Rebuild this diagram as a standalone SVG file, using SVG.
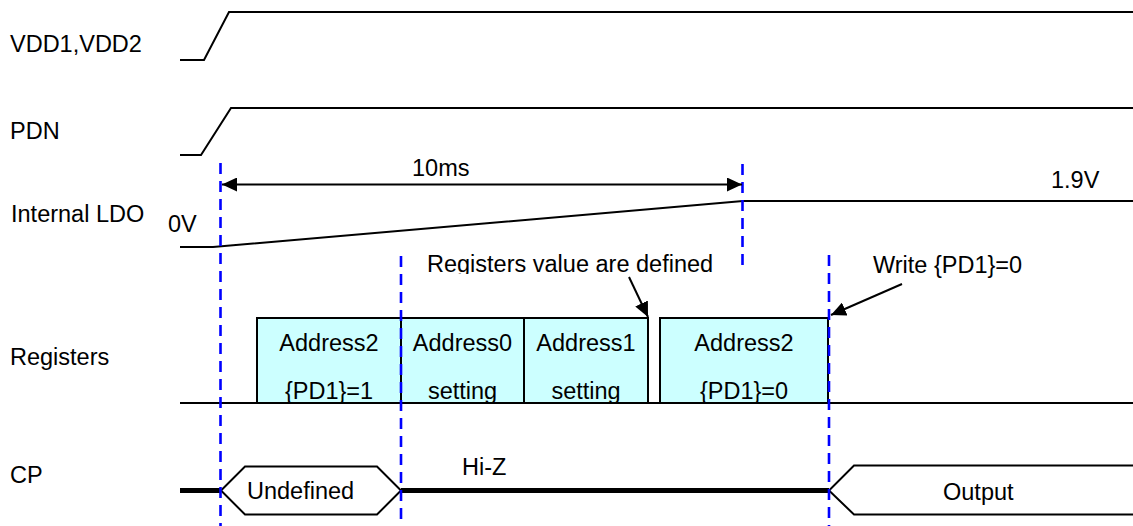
<svg xmlns="http://www.w3.org/2000/svg" width="1133" height="526" viewBox="0 0 1133 526">
<style>
text{font-family:"Liberation Sans",Arial,sans-serif;font-size:23.5px;fill:#000}
.mid{text-anchor:middle}
.sig{fill:none;stroke:#000;stroke-width:2}
.thick{fill:none;stroke:#000;stroke-width:5}
.dash{stroke:#0000FF;stroke-width:2.6;stroke-dasharray:11 7;fill:none}
.box{fill:#CCFFFF;stroke:#000;stroke-width:2}
.hex{fill:#fff;stroke:#000;stroke-width:2}
.arr{stroke:#000;stroke-width:2;fill:none}
</style>
<defs>
<marker id="ah" markerUnits="userSpaceOnUse" markerWidth="16" markerHeight="14" refX="15" refY="7" orient="auto-start-reverse">
<path d="M0,0 L15,7 L0,14 z" fill="#000"/>
</marker>
<clipPath id="clipTop"><rect x="0" y="0" width="1133" height="274"/></clipPath>
<clipPath id="clipBox"><rect x="0" y="0" width="1133" height="403"/></clipPath>
</defs>
<rect width="1133" height="526" fill="#fff"/>

<g id="labels">
<text x="10" y="52">VDD1,VDD2</text>
<text x="10" y="139">PDN</text>
<text x="11" y="222">Internal LDO</text>
<text x="10" y="365">Registers</text>
<text x="10" y="483">CP</text>
</g>

<g id="vdd">
<polyline class="sig" points="180,60 204,60 229,12 1133,12"/>
</g>
<g id="pdn">
<polyline class="sig" points="180,155 201,155 231,108 1133,108"/>
</g>
<g id="ldo">
<polyline class="sig" points="180,247 213,247 743,201 1133,201"/>
<text x="168" y="232">0V</text>
<text x="1051" y="188">1.9V</text>
<text x="412" y="176">10ms</text>
</g>

<g id="registers">
<line class="sig" x1="180" y1="403" x2="1133" y2="403"/>
<g id="box1">
<rect class="box" x="257" y="318" width="144" height="85"/>
<g clip-path="url(#clipBox)">
<text class="mid" x="329" y="351">Address2</text>
<text class="mid" x="329" y="399">{PD1}=1</text>
</g>
</g>
<g id="box2">
<rect class="box" x="401" y="318" width="123" height="85"/>
<g clip-path="url(#clipBox)">
<text class="mid" x="462.5" y="351">Address0</text>
<text class="mid" x="462.5" y="399">setting</text>
</g>
</g>
<g id="box3">
<rect class="box" x="524" y="318" width="124" height="85"/>
<g clip-path="url(#clipBox)">
<text class="mid" x="586" y="351">Address1</text>
<text class="mid" x="586" y="399">setting</text>
</g>
</g>
<g id="box4">
<rect class="box" x="660" y="318" width="168" height="85"/>
<g clip-path="url(#clipBox)">
<text class="mid" x="744" y="351">Address2</text>
<text class="mid" x="744" y="399">{PD1}=0</text>
</g>
</g>
</g>

<g id="cp">
<line class="thick" x1="180" y1="490.5" x2="221" y2="490.5"/>
<line class="thick" x1="401" y1="490.5" x2="829" y2="490.5"/>
<g id="undefined">
<polygon class="hex" points="221,490.5 245,466.5 377,466.5 401,490.5 377,514.5 245,514.5"/>
<text x="247" y="499">Undefined</text>
</g>
<g id="output">
<polyline class="hex" points="1134,465.5 854,465.5 829,490.5 854,514.5 1134,514.5"/>
<text x="943" y="500">Output</text>
</g>
<text x="462" y="475">Hi-Z</text>
</g>

<g id="guides">
<line class="dash" x1="220.5" y1="163" x2="220.5" y2="526"/>
<line class="dash" x1="401" y1="256" x2="401" y2="526"/>
<line class="dash" x1="742.5" y1="164" x2="742.5" y2="269"/>
<line class="dash" x1="829" y1="255" x2="829" y2="526"/>
</g>

<g id="annotations">
<text x="427" y="272" clip-path="url(#clipTop)">Registers value are defined</text>
<text x="873" y="273">Write {PD1}=0</text>
</g>

<g id="connectors">
<line class="arr" x1="222" y1="184.5" x2="742" y2="184.5" marker-start="url(#ah)" marker-end="url(#ah)"/>
<line class="arr" x1="629" y1="277" x2="648" y2="317" marker-end="url(#ah)"/>
<line class="arr" x1="902" y1="284" x2="831" y2="315" marker-end="url(#ah)"/>
</g>
</svg>
